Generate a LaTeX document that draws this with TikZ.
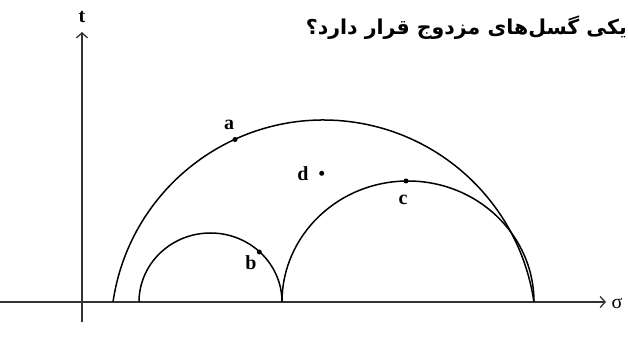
\documentclass[tikz,border=0pt]{standalone}
\usepackage{fontspec}
\setmainfont{Liberation Serif}
\newfontfamily\farsifont[Script=Arabic]{DejaVu Sans}
\TeXXeTstate=1
\usetikzlibrary{arrows.meta,positioning}

\begin{document}
\begin{tikzpicture}[
    x=1pt, y=1pt,
    axis/.style={line width=1.3pt, draw=black!80, -{Straight Barb[length=5pt,width=11pt]}},
    circ/.style={line width=1.5pt},
    pt/.style={circle, fill, inner sep=0pt, minimum size=5pt},
    lbl/.style={font=\bfseries\fontsize{20}{22}\selectfont, inner sep=0pt}
]
\useasboundingbox (0,0) rectangle (628,350);

% axes
\coordinate (west) at (0,48);
\coordinate (east) at (606,48);
\coordinate (south) at (82,28);
\coordinate (north) at (82,318);
\draw[axis] (west) -- (east);
\draw[axis] (south) -- (north);
\node[font=\fontsize{20}{22}\selectfont, inner sep=0pt] (sigma) at (617,47) {σ};
\node[lbl] (t) at (82,333) {t};

% Mohr circles
\coordinate (big) at (113,48);
\coordinate (small) at (139,48);
\coordinate (right) at (282,48);
\draw[circ] (big) arc[start angle=171.7, end angle=8.3, radius=212.7];
\draw[circ] (small) arc[start angle=180, end angle=0, x radius=71.5, y radius=69];
\draw[circ] (right) arc[start angle=180, end angle=0, x radius=126, y radius=121];

% stress points
\node[pt] (pa) at (235,210.5) {};
\node[pt] (pb) at (259.3,98) {};
\node[pt] (pc) at (406,169) {};
\node[pt] (pd) at (321.7,176.7) {};
\node[lbl] (la) at (229,225) {a};
\node[lbl] (lb) at (251,87) {b};
\node[lbl] (lc) at (403,150) {c};
\node[lbl] (ld) at (303,176) {d};

% question
\node[anchor=east, font=\farsifont\bfseries\fontsize{20.5}{23}\selectfont, inner sep=0pt]
    (question) at (627,322) {\beginR یکی گسل‌های مزدوج قرار دارد؟\endR};
\end{tikzpicture}
\end{document}
